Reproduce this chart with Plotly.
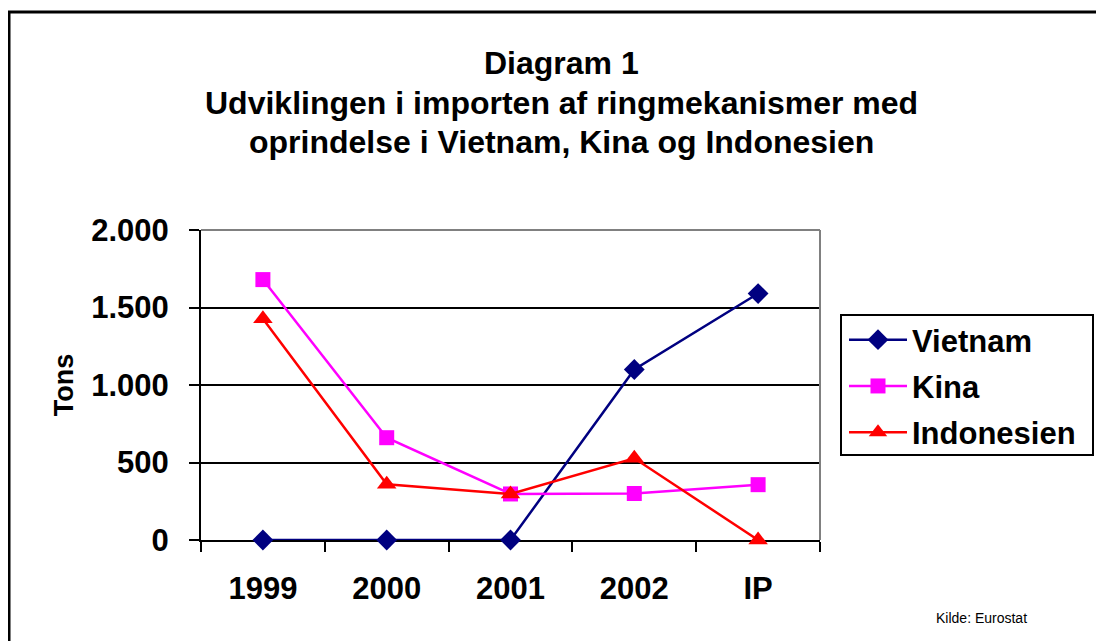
import plotly.graph_objects as go

categories = ["1999", "2000", "2001", "2002", "IP"]
vietnam = [0, 0, 0, 1100, 1590]
kina = [1680, 660, 297, 300, 357]
indonesien = [1427, 360, 297, 527, 0]
y_tickvals = [0, 500, 1000, 1500, 2000]
y_ticktext = ["0", "500", "1.000", "1.500", "2.000"]

# the page body has an 8px margin; work in screen coordinates and offset
OFF = 8
W, H = 1104 - OFF, 641 - OFF
L, R, T, B = 201 - OFF, 820 - OFF, 230 - OFF, 540 - OFF


def px(x):
    return (x - OFF - L) / (R - L)


def py(y):
    return (B - (y - OFF)) / (B - T)


FONT = "Liberation Sans, Arial, sans-serif"

fig = go.Figure()
fig.add_trace(go.Scatter(x=categories, y=vietnam, name="Vietnam", mode="lines+markers",
                         legendgroup="v",
                         line=dict(color="#000080", width=2.5),
                         marker=dict(symbol="diamond", size=16, color="#000080"),
                         cliponaxis=False))
fig.add_trace(go.Scatter(x=categories, y=kina, name="Kina", mode="lines+markers",
                         legendgroup="k",
                         line=dict(color="#FF00FF", width=2.5),
                         marker=dict(symbol="square", size=15, color="#FF00FF"),
                         cliponaxis=False))
fig.add_trace(go.Scatter(x=categories, y=indonesien, name="Indonesien", mode="lines+markers",
                         legendgroup="i",
                         line=dict(color="#FF0000", width=2.5),
                         marker=dict(symbol="triangle-up", size=17, color="#FF0000"),
                         cliponaxis=False))

fig.update_layout(
    width=W, height=H,
    margin=dict(l=L, r=W - R, t=T, b=H - B, pad=0),
    paper_bgcolor="white", plot_bgcolor="white",
    font=dict(family=FONT, color="black"),
    showlegend=True,
    legend=dict(x=px(844), y=py(313), xanchor="left", yanchor="top",
                borderwidth=0, bgcolor="rgba(0,0,0,0)",
                font=dict(size=31, family=FONT, weight="bold"),
                itemwidth=58, tracegroupgap=3),
)

fig.update_xaxes(type="category", range=[-0.5, 4.5], showline=True, linecolor="black", linewidth=2,
                 ticks="outside", tickson="boundaries", ticklen=10, tickwidth=2, tickcolor="black",
                 showgrid=False, layer="below traces",
                 tickfont=dict(size=31, family=FONT, weight="bold"), ticklabelstandoff=20)
fig.update_yaxes(range=[0, 2000], tickvals=y_tickvals, ticktext=y_ticktext,
                 showline=True, linecolor="black", linewidth=2,
                 ticks="outside", ticklen=10, tickwidth=2, tickcolor="black",
                 showgrid=True, gridcolor="black", gridwidth=2, zeroline=False,
                 layer="below traces",
                 tickfont=dict(size=31, family=FONT, weight="bold"), ticklabelstandoff=14,
                 title=dict(text="Tons", font=dict(size=27, family=FONT, weight="bold"), standoff=10))

# gray top/right plot border
fig.add_shape(type="line", xref="paper", yref="paper", x0=0, x1=1, y0=1, y1=1,
              line=dict(color="#808080", width=2), layer="above")
fig.add_shape(type="line", xref="paper", yref="paper", x0=1, x1=1, y0=0, y1=1,
              line=dict(color="#808080", width=2), layer="above")
# outer chart border
fig.add_shape(type="rect", xref="paper", yref="paper",
              x0=px(9), x1=px(1125), y0=py(665), y1=py(12),
              line=dict(color="black", width=3), layer="below")
# legend frame
fig.add_shape(type="rect", xref="paper", yref="paper",
              x0=px(841), x1=px(1093), y0=py(455), y1=py(315),
              line=dict(color="black", width=2), fillcolor="white", layer="below")

titles = ["Diagram 1", "Udviklingen i importen af ringmekanismer med",
          "oprindelse i Vietnam, Kina og Indonesien"]
title_y = [63, 103, 142]
for t, yy in zip(titles, title_y):
    fig.add_annotation(text=t, xref="paper", yref="paper", x=px(561), y=py(yy),
                       xanchor="center", yanchor="middle", showarrow=False,
                       font=dict(size=32, family=FONT, weight="bold"))

fig.add_annotation(text="Kilde: Eurostat", xref="paper", yref="paper", x=px(981), y=py(618),
                   xanchor="center", yanchor="middle", showarrow=False,
                   font=dict(size=14, family=FONT))

fig.write_html("out.html")
